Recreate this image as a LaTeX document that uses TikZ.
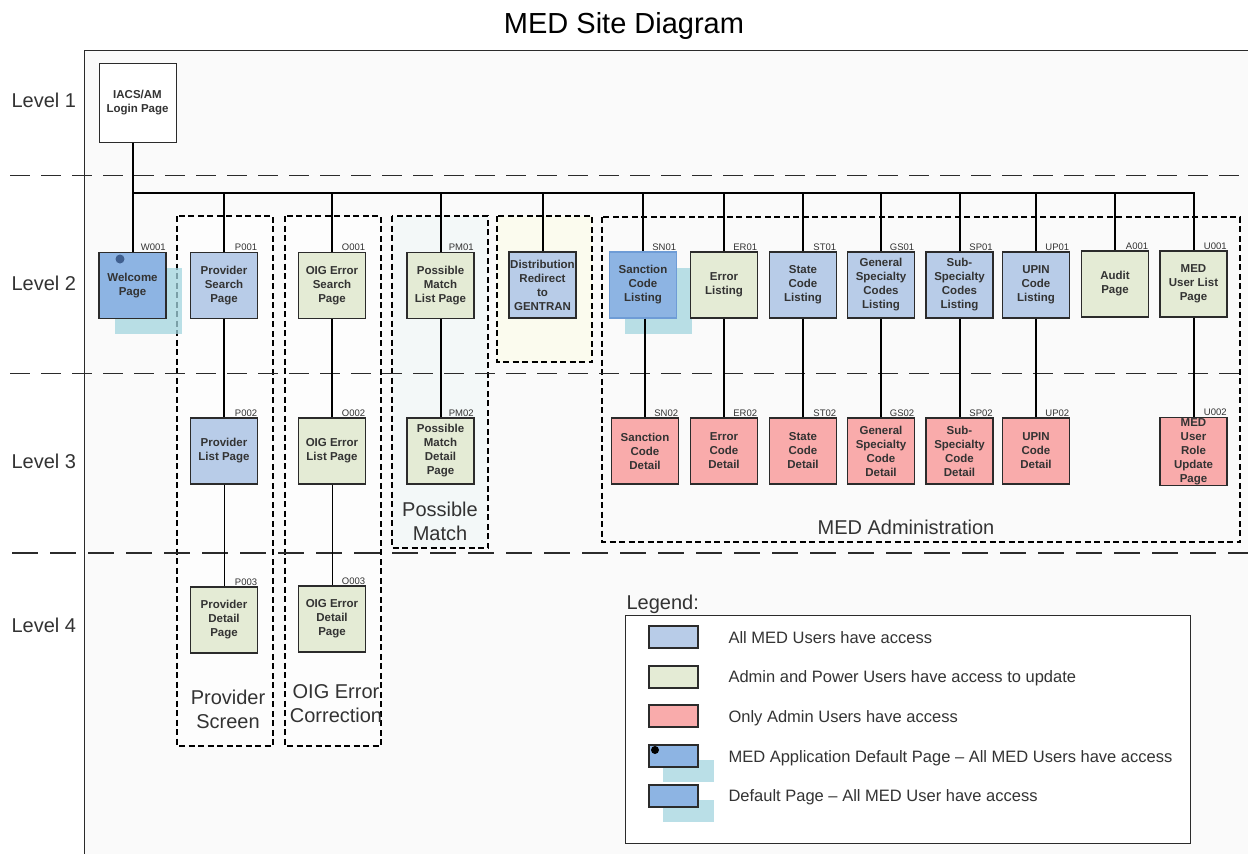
\documentclass[tikz,border=0pt]{standalone}
\usepackage{fontspec}
\setmainfont{Liberation Sans}
\usetikzlibrary{positioning}
\definecolor{pgblue}{HTML}{B8CCE8}
\definecolor{pggreen}{HTML}{E4EBD5}
\definecolor{pgred}{HTML}{F9ABAB}
\definecolor{pgdefault}{HTML}{8DB4E3}
\definecolor{pgcyan}{HTML}{A3D5DF}
\definecolor{pgline}{HTML}{2B2B2B}
\definecolor{pgtext}{HTML}{333333}
\definecolor{pgbg}{HTML}{FAFAFA}
\definecolor{pgdot}{HTML}{3F5F8F}
\begin{document}
\begin{tikzpicture}[x=1pt,y=-1pt,
    pagebox/.style={draw=pgline, line width=1.3pt, minimum width=67pt, minimum height=66pt,
      inner sep=1pt, align=center, text=pgtext, font=\bfseries\fontsize{11.5}{14}\selectfont},
    allusers/.style={pagebox, fill=pgblue},
    power/.style={pagebox, fill=pggreen},
    admin/.style={pagebox, fill=pgred},
    defpage/.style={pagebox, fill=pgdefault},
    defmark/.style={minimum width=67pt, minimum height=66pt, inner sep=0pt, fill=pgcyan, fill opacity=0.75},
    pgcode/.style={anchor=south east, inner sep=0.8pt, text=pgtext, font=\fontsize{9.5}{10}\selectfont},
    grpbox/.style={draw=black, line width=1.1pt, dash pattern=on 6pt off 3.5pt},
    grouplbl/.style={align=center, text=pgtext, font=\fontsize{20}{24}\selectfont},
    levellbl/.style={anchor=base west, text=pgtext, font=\fontsize{20}{24}\selectfont},
    levelsep/.style={draw=pgline, line width=1pt, dash pattern=on 20pt off 11pt},
    conn/.style={draw=black, line width=2pt},
    swatch/.style={draw=pgline, line width=1.3pt, minimum width=49pt, minimum height=22pt, inner sep=0pt},
    legtext/.style={anchor=base west, text=pgtext, font=\fontsize{16.5}{20}\selectfont}
  ]
  \useasboundingbox (0,0) rectangle (1248,854);
  \clip (0,0) rectangle (1248,854);
  \draw[draw=pgline, line width=1pt, fill=pgbg] (84.5,50.5) rectangle (1262,870);

  \node[anchor=base, text=black, font=\fontsize{29}{34}\selectfont] (title) at (624,33) {MED Site Diagram};
  \node[levellbl] (lvl1) at (8,107) {Level 1};
  \node[levellbl] (lvl2) at (8,290) {Level 2};
  \node[levellbl] (lvl3) at (8,468) {Level 3};
  \node[levellbl] (lvl4) at (8,632) {Level 4};

  % groups
  \draw[grpbox, fill=white!60!pgbg] (177,216) rectangle (273,746);
  \draw[grpbox, fill=white!60!pgbg] (285,216) rectangle (381,746);
  \draw[grpbox, fill={rgb,255:red,243;green,248;blue,248}] (392,216) rectangle (488,548);
  \draw[grpbox, fill={rgb,255:red,251;green,251;blue,238}] (497,216) rectangle (592,362);
  \draw[grpbox] (602,217) rectangle (1240,542);
  \node[grouplbl] (provgrp) at (228,709) {Provider\\Screen};
  \node[grouplbl] (oiggrp) at (336,704) {OIG Error\\Correction};
  \node[grouplbl] (pmgrp) at (440,521) {Possible\\Match};
  \node[grouplbl, anchor=base] (admingrp) at (906,534) {MED Administration};

  \draw[levelsep] (10,175) -- (1248,175);
  \draw[levelsep] (10,373) -- (1248,373);
  \draw[levelsep, line width=2.2pt, dash pattern=on 26pt off 12pt] (12,553) -- (1248,553);

  % default page marks
  \node[defmark] (welcomemark) at (148,301) {};
  \node[defmark] (snmark) at (658,301) {};

  % level 1
  \node[pagebox, fill=white, line width=1pt, minimum width=77pt, minimum height=79pt] (login) at (137.5,102.5) {IACS/AM\\Login Page};

  % level 2
  \node[defpage] (welcome) at (132.5,285.5) {Welcome\\Page};
  \fill[pgdot] (120,259) circle (4.5);
  \node[allusers] (provsearch) at (224,285.5) {Provider\\Search\\Page};
  \node[power] (oigsearch) at (332,285.5) {OIG Error\\Search\\Page};
  \node[power] (pmlist) at (440.5,285.5) {Possible\\Match\\List Page};
  \node[allusers] (distrib) at (542.5,285) {Distribution\\Redirect\\to\\GENTRAN};
  \node[defpage, draw={rgb,255:red,110;green,156;blue,214}] (snlist) at (643,285) {Sanction\\Code\\Listing};
  \node[power] (erlist) at (724,285) {Error\\Listing};
  \node[allusers] (stlist) at (803,285) {State\\Code\\Listing};
  \node[allusers] (gslist) at (881,285) {General\\Specialty\\Codes\\Listing};
  \node[allusers] (splist) at (959.5,285) {Sub-\\Specialty\\Codes\\Listing};
  \node[allusers] (uplist) at (1036,285) {UPIN\\Code\\Listing};
  \node[power] (audit) at (1115,284) {Audit\\Page};
  \node[power] (userlist) at (1193.5,284) {MED\\User List\\Page};

  % level 3
  \node[allusers] (provlist) at (224,451) {Provider\\List Page};
  \node[power] (oiglist) at (332,451) {OIG Error\\List Page};
  \node[power] (pmdetail) at (440.5,451) {Possible\\Match\\Detail\\Page};
  \node[admin] (sndetail) at (645,451) {Sanction\\Code\\Detail};
  \node[admin] (erdetail) at (724,451) {Error\\Code\\Detail};
  \node[admin] (stdetail) at (803,451) {State\\Code\\Detail};
  \node[admin] (gsdetail) at (881,451) {General\\Specialty\\Code\\Detail};
  \node[admin] (spdetail) at (959.5,451) {Sub-\\Specialty\\Code\\Detail};
  \node[admin] (updetail) at (1036,451) {UPIN\\Code\\Detail};
  \node[admin] (userrole) at (1193.5,451.5) {MED\\User\\Role\\Update\\Page};

  % level 4
  \node[power] (provdetail) at (224,620) {Provider\\Detail\\Page};
  \node[power] (oigdetail) at (332,619) {OIG Error\\Detail\\Page};

  \foreach \n/\c in {welcome/W001, provsearch/P001, oigsearch/O001, pmlist/PM01, snlist/SN01,
      erlist/ER01, stlist/ST01, gslist/GS01, splist/SP01, uplist/UP01, audit/A001, userlist/U001,
      provlist/P002, oiglist/O002, pmdetail/PM02, sndetail/SN02, erdetail/ER02, stdetail/ST02,
      gsdetail/GS02, spdetail/SP02, updetail/UP02, userrole/U002, provdetail/P003, oigdetail/O003}
    \node[pgcode] (\n-code) at (\n.north east) {\c};

  \begin{scope}[conn]
    \coordinate (busL) at (132.5,193);
    \coordinate (busR) at (1193.5,193);
    \draw (welcome.north |- login.south) -- (welcome.north);
    \draw (busL) -- (busR) -- (userlist.north);
    \foreach \n in {provsearch, oigsearch, pmlist, distrib, snlist, erlist, stlist, gslist, splist, uplist, audit}
      \draw (busL -| \n.north) -- (\n.north);
    \foreach \a/\b in {provsearch/provlist, oigsearch/oiglist, pmlist/pmdetail, erlist/erdetail,
        stlist/stdetail, gslist/gsdetail, splist/spdetail, uplist/updetail, userlist/userrole}
      \draw (\a) -- (\b);
    \draw (snlist.south -| sndetail.north) -- (sndetail.north);
    \draw[line width=1pt] (provlist) -- (provdetail);
    \draw[line width=1pt] (oiglist) -- (oigdetail);
  \end{scope}

  % legend
  \node[anchor=base west, text=pgtext, font=\fontsize{20}{24}\selectfont] (legend) at (623,609) {Legend:};
  \draw[draw=pgline, line width=1pt, fill=white] (625,615) rectangle (1190,843);
  \node[defmark, minimum width=51pt, minimum height=22pt] (legmark4) at (688.5,771) {};
  \node[defmark, minimum width=51pt, minimum height=22pt] (legmark5) at (688.5,811) {};
  \node[swatch, fill=pgblue] (legblue) at (673.5,637) {};
  \node[swatch, fill=pggreen] (leggreen) at (673.5,677) {};
  \node[swatch, fill=pgred] (legred) at (673.5,716) {};
  \node[swatch, fill=pgdefault] (legapp) at (673.5,756) {};
  \node[swatch, fill=pgdefault] (legdef) at (673.5,796) {};
  \fill[black] (655,750) circle (4);
  \node[legtext] (legbluetxt) at (725,643) {All MED Users have access};
  \node[legtext] (leggreentxt) at (725,682) {Admin and Power Users have access to update};
  \node[legtext] (legredtxt) at (725,722) {Only Admin Users have access};
  \node[legtext] (legapptxt) at (725,762) {MED Application Default Page – All MED Users have access};
  \node[legtext] (legdeftxt) at (725,801) {Default Page – All MED User have access};
\end{tikzpicture}
\end{document}
